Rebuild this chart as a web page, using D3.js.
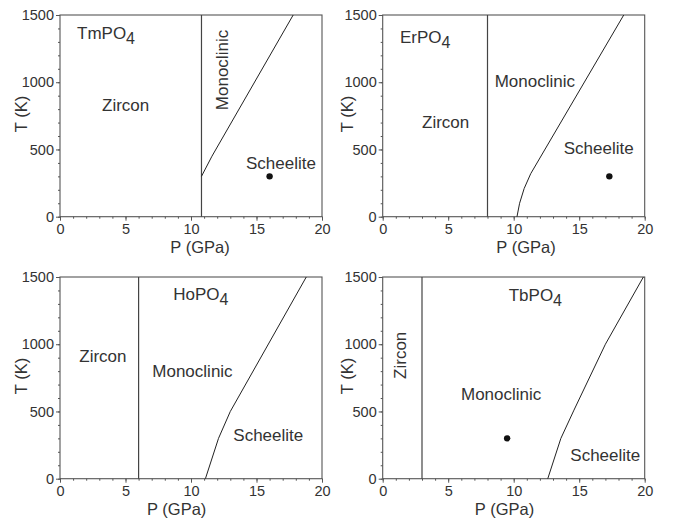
<!DOCTYPE html>
<html>
<head>
<meta charset="utf-8">
<script src="https://cdn.jsdelivr.net/npm/d3@7"></script>
<style>
  body { margin: 0; background: #fff; }
  text { font-family: "Liberation Sans", Arial, sans-serif; fill: #333; }
</style>
</head>
<body>
<div id="chart"></div>
<script>
// compounds, one panel each (formula base + subscript)
var compounds = ["TmPO", "ErPO", "HoPO", "TbPO"];
var subscripts = ["4", "4", "4", "4"];

// zircon / monoclinic boundary, vertical line at P (GPa)
var zirconBoundary = [10.8, 8, 6, 3];

// monoclinic / scheelite boundary, [P (GPa), T (K)]
var scheeliteBoundary = [
  [[10.8, 300], [11.6, 450], [17.8, 1500]],
  [[10.25, 0], [10.45, 100], [10.8, 210], [11.3, 320], [18.4, 1500]],
  [[11.1, 0], [12.1, 300], [13, 500], [18.8, 1500]],
  [[12.6, 0], [13.6, 300], [14.6, 510], [17, 1000], [19.9, 1500]]
];

// experimental points, [P, T] (none for HoPO4)
var points = [[[16, 300]], [[17.3, 300]], [], [[9.5, 300]]];

var xTicks = [0, 5, 10, 15, 20];
var yTicks = [0, 500, 1000, 1500];

// panel layout
var W = 677, H = 524;
var pw = 262, ph = 201.7;
var origins = [[60, 15], [382.7, 15], [60, 277], [382.7, 277]];

// label positions relative to plot top-left: [dx, dy(center)], rotated flag
var labelPos = [
  { title: [17, 18], zircon: [42, 90, false], mono: [161.7, 55, true], sch: [186, 148] },
  { title: [17.3, 22], zircon: [39.3, 107, false], mono: [112, 66, false], sch: [181, 133] },
  { title: [113.3, 17], zircon: [19.3, 79, false], mono: [92.3, 94, false], sch: [173.3, 158.3] },
  { title: [126, 18.3], zircon: [17.6, 78.3, true], mono: [78.3, 116.7, false], sch: [187.6, 177.7] }
];
var xTitleDx = [140, 143.3, 116.7, 121.8];
var yTitleDx = [-39, -36, -39, -36];

var svg = d3.select("#chart").append("svg")
  .attr("width", W)
  .attr("height", H);

var x = d3.scaleLinear().domain([0, 20]).range([0, pw]);
var y = d3.scaleLinear().domain([0, 1500]).range([ph, 0]);

var line = d3.line()
  .x(function (d) { return x(d[0]); })
  .y(function (d) { return y(d[1]); });

compounds.forEach(function (name, i) {
  var g = svg.append("g")
    .attr("transform", "translate(" + origins[i][0] + "," + origins[i][1] + ")");

  // minor ticks
  var xMinor = d3.axisBottom(x).tickValues(d3.range(0, 21, 1)).tickSize(2).tickFormat("");
  var yMinor = d3.axisLeft(y).tickValues(d3.range(0, 1501, 100)).tickSize(2).tickFormat("");
  g.append("g").attr("class", "minor").attr("transform", "translate(0," + ph + ")").call(xMinor);
  g.append("g").attr("class", "minor").call(yMinor);

  // major ticks + labels
  var xAxis = g.append("g")
    .attr("transform", "translate(0," + ph + ")")
    .call(d3.axisBottom(x).tickValues(xTicks).tickSize(4).tickPadding(3).tickFormat(d3.format("d")));
  var yAxis = g.append("g")
    .call(d3.axisLeft(y).tickValues(yTicks).tickSize(4).tickPadding(2).tickFormat(d3.format("d")));

  g.selectAll(".domain").remove();
  g.selectAll(".tick line").attr("stroke", "#555").attr("stroke-width", 1);
  xAxis.selectAll("text").attr("font-size", "14.5px").attr("fill", "#333");
  yAxis.selectAll("text").attr("font-size", "14.5px").attr("fill", "#333");

  // frame
  g.append("rect")
    .attr("width", pw)
    .attr("height", ph)
    .attr("fill", "none")
    .attr("stroke", "#555")
    .attr("stroke-width", 1.1);

  // zircon boundary
  g.append("line")
    .attr("x1", x(zirconBoundary[i]))
    .attr("x2", x(zirconBoundary[i]))
    .attr("y1", y(0))
    .attr("y2", y(1500))
    .attr("stroke", "#444")
    .attr("stroke-width", 1.2);

  // scheelite boundary
  g.append("path")
    .datum(scheeliteBoundary[i])
    .attr("d", line)
    .attr("fill", "none")
    .attr("stroke", "#222")
    .attr("stroke-width", 1);

  // points
  g.selectAll(".pt")
    .data(points[i])
    .enter()
    .append("circle")
    .attr("cx", function (d) { return x(d[0]); })
    .attr("cy", function (d) { return y(d[1]); })
    .attr("r", 3.2)
    .attr("fill", "#111");

  var lp = labelPos[i];

  // compound title with subscript
  var t = g.append("text")
    .attr("x", lp.title[0])
    .attr("y", lp.title[1] + 6)
    .attr("font-size", "17px");
  t.append("tspan").text(name);
  t.append("tspan").attr("dy", 5).attr("font-size", "16px").text(subscripts[i]);

  // phase labels
  function phaseLabel(txt, p) {
    if (p[2]) {
      g.append("text")
        .attr("transform", "translate(" + (p[0] + 6) + "," + p[1] + ") rotate(-90)")
        .attr("text-anchor", "middle")
        .attr("font-size", "17px")
        .text(txt);
    } else {
      g.append("text")
        .attr("x", p[0])
        .attr("y", p[1] + 6)
        .attr("font-size", "17px")
        .text(txt);
    }
  }
  phaseLabel("Zircon", lp.zircon);
  phaseLabel("Monoclinic", lp.mono);
  phaseLabel("Scheelite", lp.sch);

  // axis titles
  g.append("text")
    .attr("x", xTitleDx[i])
    .attr("y", ph + 36)
    .attr("text-anchor", "middle")
    .attr("font-size", "16.5px")
    .text("P (GPa)");

  g.append("text")
    .attr("transform", "translate(" + (yTitleDx[i] + 6) + "," + 99 + ") rotate(-90)")
    .attr("text-anchor", "middle")
    .attr("font-size", "16.5px")
    .text("T (K)");
});
</script>
</body>
</html>
